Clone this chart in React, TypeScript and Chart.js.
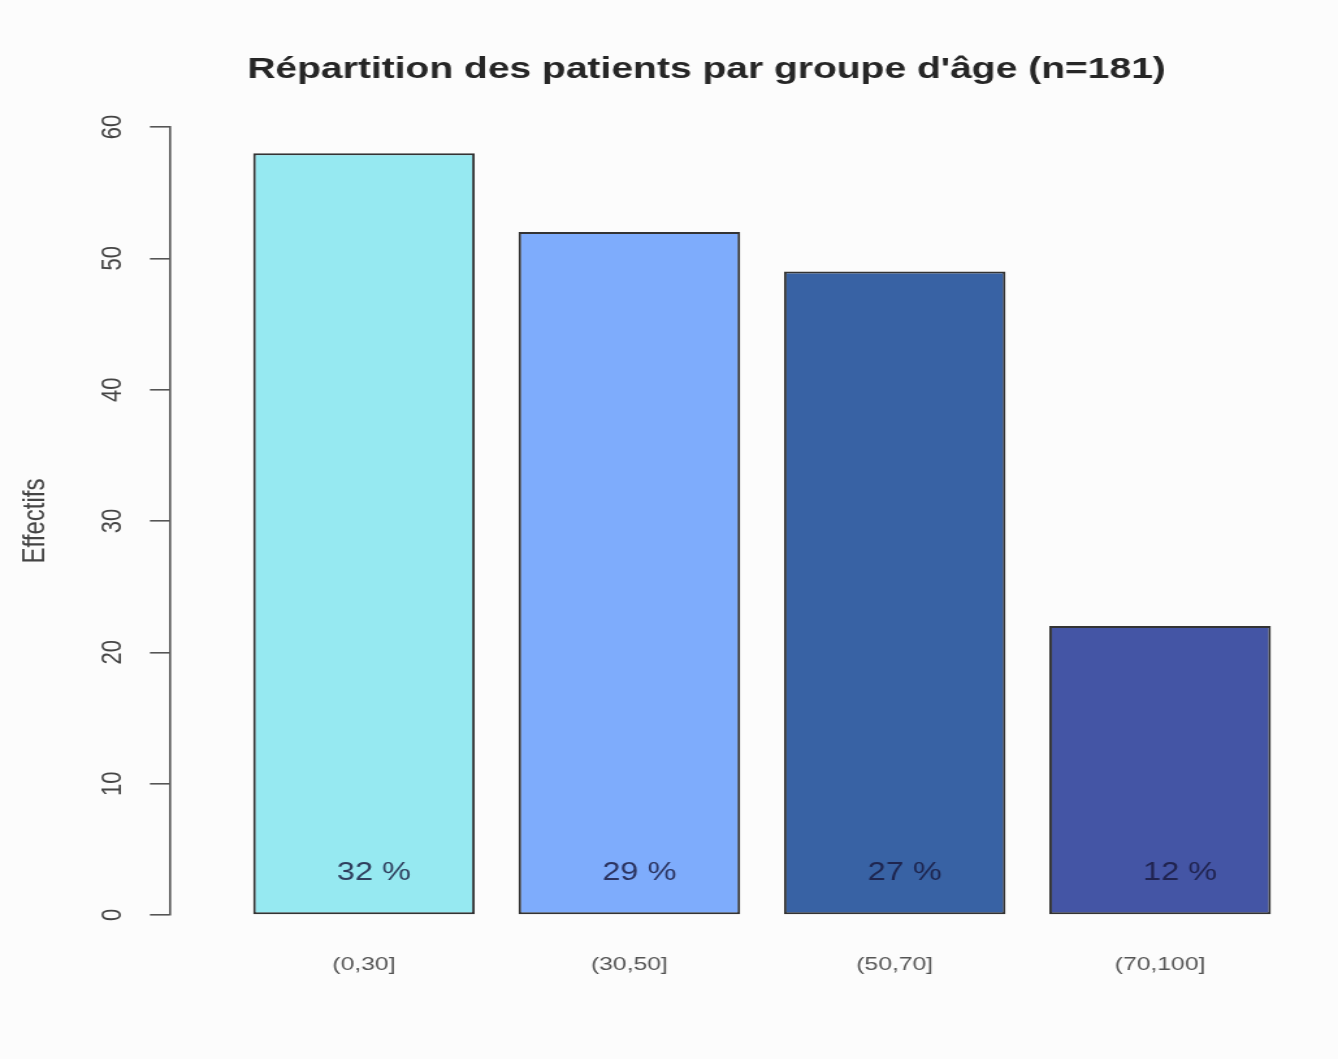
import React, { useEffect, useRef } from "react";
import { Chart, registerables } from "chart.js";

Chart.register(...registerables);

const categories = ["(0,30]", "(30,50]", "(50,70]", "(70,100]"];
const counts = [58, 52, 49, 22];
const percentLabels = ["32 %", "29 %", "27 %", "12 %"];
const barColors = ["#96E9F1", "#7EACFC", "#3862A4", "#4455A5"];
const yTicks = [0, 10, 20, 30, 40, 50, 60];
const titleText = "Répartition des patients par groupe d'âge (n=181)";
const yTitle = "Effectifs";

const FONT = "'Liberation Sans', Arial, Helvetica, sans-serif";
// The reference picture is stretched horizontally; draw on a narrower canvas and stretch it with CSS.
const PAGE_W = 1338;
const PAGE_H = 1059;
const INNER_W = 1029;

const percentPlugin = {
  id: "percentLabels",
  afterDatasetsDraw(chart: any) {
    const ctx = chart.ctx;
    const meta = chart.getDatasetMeta(0);
    const y = chart.scales.y.getPixelForValue(3.2);
    const offsets = [7.7, 7.7, 7.7, 15.4];
    ctx.save();
    ctx.font = `25px ${FONT}`;
    ctx.fillStyle = "rgba(25,25,60,0.82)";
    ctx.textAlign = "center";
    ctx.textBaseline = "middle";
    meta.data.forEach((bar: any, i: number) => {
      ctx.fillText(percentLabels[i], bar.x + offsets[i], y);
    });
    ctx.restore();
  },
};

export default function App() {
  const canvasRef = useRef<HTMLCanvasElement | null>(null);

  useEffect(() => {
    document.body.style.margin = "0";
    document.body.style.background = "#FCFCFC";
    const canvas = canvasRef.current!;
    const chart = new Chart(canvas, {
      type: "bar",
      data: {
        datasets: [
          {
            data: counts.map((v, i) => ({ x: i + 1, y: v })),
            backgroundColor: barColors,
            borderColor: "#333333",
            borderWidth: 2,
            borderSkipped: false,
            categoryPercentage: 1,
            barPercentage: 0.835,
            clip: false,
          },
        ],
      },
      options: {
        animation: false,
        responsive: false,
        devicePixelRatio: 1,
        layout: { padding: { left: 0, right: 73, top: 0, bottom: 0 } },
        plugins: {
          legend: { display: false },
          tooltip: { enabled: false },
          title: {
            display: true,
            fullSize: false,
            text: titleText,
            color: "#262626",
            font: { family: FONT, size: 30, weight: "bold" },
            padding: { top: 52, bottom: 39 },
          },
        },
        scales: {
          x: {
            type: "linear",
            offset: false,
            min: 0.2689,
            max: 4.3128,
            grid: { display: false, drawTicks: false },
            border: { display: false },
            afterBuildTicks: (scale: any) => {
              scale.ticks = categories.map((_, i) => ({ value: i + 1 }));
            },
            afterFit: (scale: any) => {
              scale.height = 144;
            },
            ticks: {
              color: "#555555",
              font: { family: FONT, size: 19 },
              padding: 38,
              maxRotation: 0,
              autoSkip: false,
              callback: (v: any) => categories[Number(v) - 1] ?? "",
            },
          },
          y: {
            min: 0,
            max: 60,
            afterBuildTicks: (scale: any) => {
              scale.ticks = yTicks.map((v) => ({ value: v }));
            },
            afterFit: (scale: any) => {
              scale.width = 130.7;
            },
            grid: {
              drawOnChartArea: false,
              drawTicks: true,
              tickLength: 15.4,
              color: "#555555",
              lineWidth: 1.6,
            },
            border: { display: true, color: "#555555", width: 1.6 },
            ticks: {
              color: "#444444",
              font: { family: FONT, size: 22 },
              minRotation: 90,
              maxRotation: 90,
              crossAlign: "center",
              padding: 16,
            },
            title: {
              display: true,
              text: yTitle,
              color: "#444444",
              font: { family: FONT, size: 24 },
              padding: { top: 12.5, bottom: 0 },
            },
          },
        },
      },
      plugins: [percentPlugin],
    } as any);
    return () => chart.destroy();
  }, []);

  return (
    <div style={{ position: "absolute", left: 0, top: 0, width: PAGE_W, height: PAGE_H, background: "#FCFCFC" }}>
      <canvas
        ref={canvasRef}
        width={INNER_W}
        height={PAGE_H}
        style={{ width: PAGE_W, height: PAGE_H, display: "block" }}
      />
    </div>
  );
}
